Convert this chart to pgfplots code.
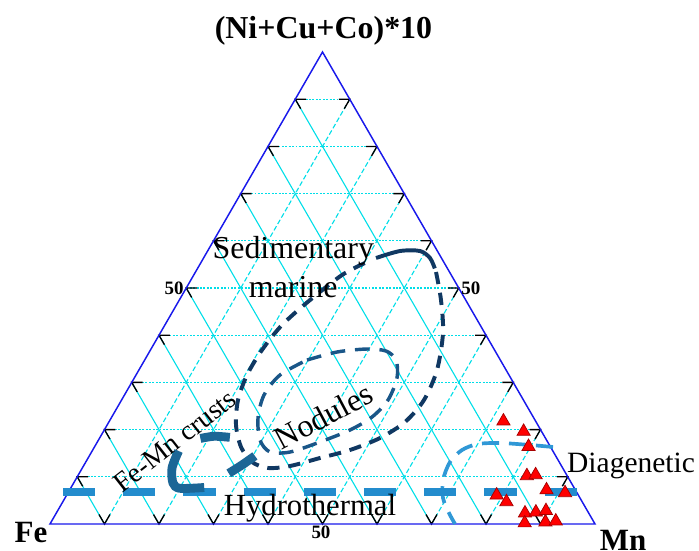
\documentclass[border=0pt]{standalone}
\usepackage{fontspec}
\setmainfont{Liberation Serif}
\usepackage{pgfplots}
\usepackage{pgfplotstable}
\pgfplotsset{compat=1.18}

\definecolor{gridc}{RGB}{0,222,232}
\definecolor{edgec}{RGB}{25,25,235}
\definecolor{sedc}{RGB}{16,56,98}
\definecolor{nodc}{RGB}{26,86,136}
\definecolor{crustc}{RGB}{28,102,150}
\definecolor{hydc}{RGB}{35,140,205}
\definecolor{diac}{RGB}{48,152,214}

% samples: Mn (%) and T = (Ni+Cu+Co)*10 (%); Fe = 100 - Mn - T
\pgfplotstableread{
Mn   T
72.3 21.8
77.1 19.6
79.6 16.4
82.4 10.2
83.9 10.4
78.9 6.1
81.4 4.7
87.5 7.2
91.2 6.6
86.0 2.3
87.9 2.5
89.6 2.8
87.0 0.2
90.7 0.4
92.5 0.6
}\samples

\begin{document}
\begin{tikzpicture}
\begin{axis}[
    width=10cm,height=7.868cm,scale only axis,
    xmin=-9.17,xmax=119.08,ymin=-4.77,ymax=96.15,
    hide axis,clip=false]

% grid lines
\pgfplotsinvokeforeach{10,20,30,40,50,60,70,80,90}{
  \draw[gridc,line width=0.45pt,dash pattern=on 0.8pt off 0.6pt]
    (axis cs:{#1/2},{#1*0.86603}) -- (axis cs:{100-#1/2},{#1*0.86603});
  \draw[gridc,line width=0.45pt,dash pattern=on 2pt off 1pt]
    (axis cs:#1,0) -- (axis cs:{50+#1/2},{(100-#1)*0.86603});
  \draw[gridc,line width=0.45pt]
    (axis cs:{100-#1},0) -- (axis cs:{(100-#1)/2},{(100-#1)*0.86603});
}
% ticks
\pgfplotsinvokeforeach{10,20,30,40,50,60,70,80,90}{
  \draw[black,line width=0.55pt] (axis cs:{#1/2+2},{#1*0.86603}) -- (axis cs:{#1/2},{#1*0.86603}) -- (axis cs:{#1/2+1},{#1*0.86603-1.732});
  \draw[black,line width=0.55pt] (axis cs:{100-#1/2-2},{#1*0.86603}) -- (axis cs:{100-#1/2},{#1*0.86603}) -- (axis cs:{100-#1/2-1},{#1*0.86603-1.732});
  \draw[black,line width=0.55pt] (axis cs:{#1-1},1.732) -- (axis cs:#1,0) -- (axis cs:{#1+1},1.732);
}
\draw[edgec,line width=0.6pt] (axis cs:0,0) -- (axis cs:100,0) -- (axis cs:50,86.603) -- cycle;

% samples
\addplot[only marks,mark=triangle*,mark size=3.1pt,
  mark options={fill=red,draw=red!65!black,line width=0.3pt}]
  table[x expr=\thisrow{Mn}+0.5*\thisrow{T},y expr=0.86603*\thisrow{T}] {\samples};

% Sedimentary marine field
\addplot[sedc,line width=1.6pt,smooth] coordinates {
  (59.82,48.81) (64.22,50.09) (67.89,50.09) (69.72,48.81) (70.6,46.9)};
\addplot[sedc,line width=1.6pt,smooth,dash pattern=on 5pt off 3.6pt] coordinates {
  (70.83,46.24) (71.74,41.10) (72.11,35.05) (71.01,28.26) (68.62,22.75)
  (65.14,18.72) (60.55,15.78) (55.05,13.58) (49.54,12.11) (44.04,10.64)
  (40.0,10.28) (37.06,11.38) (35.05,14.13) (34.13,18.17) (34.50,22.75)
  (36.15,27.34) (38.90,31.93) (42.57,36.51) (47.71,41.10) (53.58,45.69)
  (57.8,47.9)};

% Nodules field
\addplot[nodc,line width=1.4pt,smooth,dash pattern=on 6pt off 4pt] coordinates {
  (47.16,30.09) (52.66,31.56) (58.17,32.11) (61.65,31.74) (63.49,30.09)
  (63.67,26.79) (62.02,22.75) (59.08,19.63) (55.05,17.25) (49.54,15.05)
  (44.04,13.21) (40.37,13.21) (38.53,15.41) (38.17,19.45) (39.27,23.67)
  (42.20,27.34) (47.16,30.09)};

% Diagenetic boundary
\addplot[diac,line width=1.5pt,smooth,dash pattern=on 7pt off 4pt] coordinates {
  (92.3,14.13) (88.07,14.50) (82.57,14.86) (78.53,14.68) (75.60,13.58)
  (73.39,11.38) (72.11,8.07) (72.11,4.77) (73.21,2.02) (74.31,0)};

% Hydrothermal boundary
\addplot[hydc,line width=3.3pt,dash pattern=on 13.1pt off 11.4pt] coordinates {
  (2.39,5.87) (96.9,5.87)};

% Fe-Mn crusts field
\addplot[crustc,line width=3.6pt,smooth] coordinates {(27.6,15.7) (30.09,16.1) (33.0,15.9)};
\addplot[crustc,line width=3.6pt,smooth] coordinates {(32.8,9.3) (35.23,10.83) (37.6,12.5)};
\addplot[crustc,line width=3.6pt,smooth] coordinates {(23.6,13.4) (22.39,10.28) (22.57,7.52) (23.85,6.55) (28.3,6.7)};

% labels
\node[font=\fontsize{13}{15}\selectfont\bfseries] at (axis cs:50.18,90.46) {(Ni+Cu+Co)*10};
\node[font=\fontsize{12.6}{14}\selectfont\bfseries] at (axis cs:-3.49,-1.47) {Fe};
\node[font=\fontsize{12.6}{14}\selectfont\bfseries] at (axis cs:105.14,-2.94) {Mn};
\node[font=\fontsize{7.7}{9}\selectfont\bfseries,anchor=east,inner sep=0pt] at (axis cs:24.6,43.30) {50};
\node[font=\fontsize{7.7}{9}\selectfont\bfseries,anchor=west,inner sep=0pt] at (axis cs:75.4,43.30) {50};
\node[font=\fontsize{7.7}{9}\selectfont\bfseries] at (axis cs:49.72,-1.47) {50};
\node[font=\fontsize{13}{15}\selectfont,anchor=base] at (axis cs:44.64,48.81) {Sedimentary};
\node[font=\fontsize{13}{15}\selectfont,anchor=base] at (axis cs:44.64,41.65) {marine};
\node[font=\fontsize{13}{15}\selectfont,rotate=28] at (axis cs:50.22,19.82) {Nodules};
\node[font=\fontsize{11.3}{13}\selectfont,rotate=38] at (axis cs:22.9,15.2) {Fe-Mn crusts};
\node[font=\fontsize{12.5}{14}\selectfont,anchor=base] at (axis cs:47.71,1.47) {Hydrothermal};
\node[font=\fontsize{12}{14}\selectfont,anchor=base] at (axis cs:106.61,9.54) {Diagenetic};

\coordinate (bl) at (rel axis cs:0,0);
\coordinate (tr) at (rel axis cs:1,1);
\end{axis}
\pgfresetboundingbox
\path (bl) rectangle (tr);
\end{tikzpicture}
\end{document}
